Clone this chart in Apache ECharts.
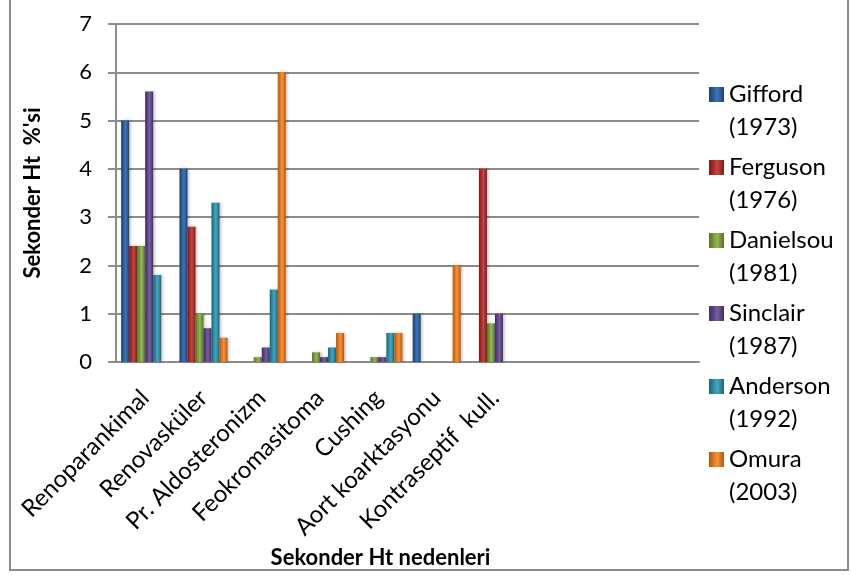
<!DOCTYPE html>
<html>
<head>
<meta charset="utf-8">
<script src="https://cdn.jsdelivr.net/npm/echarts@6/dist/echarts.min.js"></script>
<style>
  html, body { margin: 0; padding: 0; background: #fff; }
  #chart { width: 851px; height: 575px; }
</style>
</head>
<body>
<div id="chart"></div>
<script>
// Causes of secondary hypertension, percentage reported by each study
const categories = ['Renoparankimal', 'Renovasküler', 'Pr. Aldosteronizm', 'Feokromasitoma',
  'Cushing', 'Aort koarktasyonu', 'Kontraseptif  kull.', '', '', ''];

const seriesNames = ['Gifford\n(1973)', 'Ferguson\n(1976)', 'Danielsou\n(1981)',
  'Sinclair\n(1987)', 'Anderson\n(1992)', 'Omura\n(2003)'];

const gifford   = [5,   4,   null, null, null, 1,    null];
const ferguson  = [2.4, 2.8, null, null, null, null, 4];
const danielsou = [2.4, 1,   0.1,  0.2,  0.1,  null, 0.8];
const sinclair  = [5.6, 0.7, 0.3,  0.1,  0.1,  null, 1];
const anderson  = [1.8, 3.3, 1.5,  0.3,  0.6,  null, null];
const omura     = [null, 0.5, 6,   0.6,  0.6,  2,    null];

const yTicks = [0, 1, 2, 3, 4, 5, 6, 7];

// base / light / dark tones for each study's bar
const palette = [
  ['#2b5c98', '#3f76b8', '#1c416f'],
  ['#a82b29', '#c44744', '#7a1d1b'],
  ['#789a3b', '#95b656', '#56702a'],
  ['#5c4386', '#7860a0', '#402e60'],
  ['#2b8aa6', '#46a6c2', '#1d6578'],
  ['#e0761f', '#f59440', '#b25810']
];
const values = [gifford, ferguson, danielsou, sinclair, anderson, omura];

function barFill(c) {
  return new echarts.graphic.LinearGradient(0, 0, 1, 0, [
    { offset: 0, color: c[2] },
    { offset: 0.3, color: c[0] },
    { offset: 0.55, color: c[1] },
    { offset: 1, color: c[2] }
  ]);
}

const chart = echarts.init(document.getElementById('chart'), null, { renderer: 'canvas' });

const FONT = 'Lato';

chart.setOption({
  animation: false,
  backgroundColor: '#fff',
  textStyle: { fontFamily: FONT },
  grid: { left: 116, right: 152, top: 24, bottom: 213, containLabel: false },
  graphic: [{
    type: 'rect',
    shape: { x: 10, y: -10, width: 838, height: 580 },
    style: { fill: 'none', stroke: '#8c8c8c', lineWidth: 2 },
    silent: true, z: -1
  }],
  legend: {
    orient: 'vertical',
    left: 709,
    top: 45,
    padding: 0,
    itemGap: -26,
    itemWidth: 15,
    itemHeight: 15,
    icon: 'rect',
    // leading blank line keeps the marker level with the study name
    formatter: name => '\n' + name,
    textStyle: { fontFamily: FONT, fontSize: 24, color: '#000', lineHeight: 33 }
  },
  xAxis: {
    type: 'category',
    data: categories,
    name: 'Sekonder Ht nedenleri',
    nameLocation: 'middle',
    nameGap: 179,
    nameTextStyle: { fontFamily: FONT, fontSize: 22, fontWeight: 'bold', color: '#000', padding: [0, 54, 0, 0] },
    axisLine: { lineStyle: { color: '#8c8c8c', width: 2 } },
    axisTick: { show: false },
    axisLabel: { rotate: 45, interval: 0, margin: 32, fontFamily: FONT, fontSize: 24, color: '#000' }
  },
  yAxis: {
    type: 'value',
    min: 0, max: 7, interval: 1,
    name: "Sekonder Ht  %'si",
    nameLocation: 'middle',
    nameGap: 72,
    nameTextStyle: { fontFamily: FONT, fontSize: 22, fontWeight: 'bold', color: '#000' },
    axisLine: { show: true, lineStyle: { color: '#8c8c8c', width: 2 } },
    axisTick: { show: true, inside: false, length: 8, lineStyle: { color: '#8c8c8c', width: 2 } },
    splitLine: { lineStyle: { color: '#8c8c8c', width: 2 } },
    axisLabel: {
      margin: 24, fontFamily: FONT, fontSize: 22, color: '#000',
      formatter: v => yTicks.includes(v) ? String(v) : ''
    }
  },
  series: values.map((d, i) => ({
    name: seriesNames[i],
    type: 'bar',
    data: d,
    barWidth: 8,
    barGap: '0%',
    itemStyle: {
      color: barFill(palette[i]),
      shadowColor: 'rgba(0,0,0,0.25)',
      shadowBlur: 3,
      shadowOffsetX: 1.5
    }
  })),
  color: palette.map(c => c[0])
});
</script>
</body>
</html>
